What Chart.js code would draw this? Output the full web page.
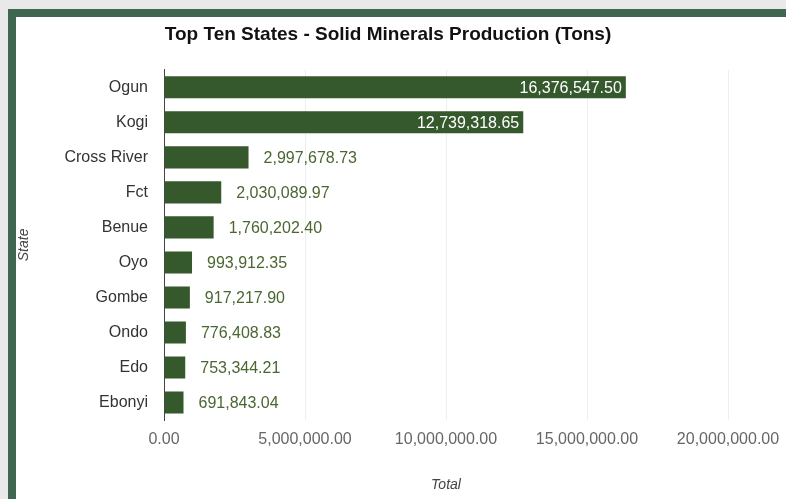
<!DOCTYPE html>
<html>
<head>
<meta charset="utf-8">
<script src="https://cdn.jsdelivr.net/npm/chart.js@4.4.1/dist/chart.umd.min.js"></script>
<style>
	html, body { margin: 0; padding: 0; background: #e9e9e9; overflow: hidden; }
	#frame {
		position: absolute; left: 8px; top: 9px; right: 0; bottom: 0;
		border-top: 8px solid #3e6650; border-left: 8px solid #3e6650;
		background: #fff;
	}
	#chart { position: absolute; left: 0; top: 0; }
</style>
</head>
<body>
<div id="frame"></div>
<canvas id="chart" width="786" height="499"></canvas>
<script>
var states = ["Ogun", "Kogi", "Cross River", "Fct", "Benue", "Oyo", "Gombe", "Ondo", "Edo", "Ebonyi"];
var totals = [16376547.50, 12739318.65, 2997678.73, 2030089.97, 1760202.40, 993912.35, 917217.90, 776408.83, 753344.21, 691843.04];
var xMax = 20000000,
	xStep = 5000000;

var fontFamily = "'Liberation Sans', Arial, sans-serif";
var barColor = "#35592c";

function fmt(v) {
	return Number(v).toLocaleString("en-US", {minimumFractionDigits: 2, maximumFractionDigits: 2});
}

// value labels: inside the bar end when they fit, otherwise just past it
var valueLabels = {
	id: "valueLabels",
	afterDatasetsDraw: function (chart) {
		var ctx = chart.ctx;
		var meta = chart.getDatasetMeta(0);
		ctx.save();
		ctx.font = "16px " + fontFamily;
		ctx.textBaseline = "middle";
		meta.data.forEach(function (bar, i) {
			var text = fmt(totals[i]);
			var w = ctx.measureText(text).width;
			if (w + 10 < bar.x - bar.base) {
				ctx.fillStyle = "#ffffff";
				ctx.textAlign = "right";
				ctx.fillText(text, bar.x - 4, bar.y + 1);
			} else {
				ctx.fillStyle = "#4a6632";
				ctx.textAlign = "left";
				ctx.fillText(text, bar.x + 15, bar.y + 1);
			}
		});
		ctx.restore();
	}
};

new Chart(document.getElementById("chart"), {
	type: "bar",
	data: {
		labels: states,
		datasets: [{
			data: totals,
			backgroundColor: barColor,
			categoryPercentage: 1,
			barPercentage: 0.63
		}]
	},
	plugins: [valueLabels],
	options: {
		indexAxis: "y",
		responsive: false,
		animation: false,
		devicePixelRatio: 1,
		layout: {padding: {left: 48, right: 58, top: 0, bottom: 0}},
		plugins: {
			legend: {display: false},
			tooltip: {enabled: false},
			title: {
				display: true,
				text: "Top Ten States - Solid Minerals Production (Tons)",
				color: "#111",
				font: {family: fontFamily, size: 19, weight: "bold"},
				padding: {top: 23, bottom: 24}
			}
		},
		scales: {
			x: {
				min: 0,
				max: xMax,
				grid: {color: "#eeeeee", drawTicks: false},
				border: {display: false},
				ticks: {
					stepSize: xStep,
					padding: 10,
					color: "#666",
					font: {family: fontFamily, size: 16},
					maxRotation: 0,
					callback: function (v) { return fmt(v); }
				},
				title: {
					display: true,
					text: "Total",
					color: "#444",
					font: {family: fontFamily, size: 14, style: "italic"},
					padding: {top: 0, bottom: 5}
				},
				afterFit: function (scale) {
					scale.height = 79;
					scale.paddingRight = 0;
					scale.paddingLeft = 0;
				}
			},
			y: {
				grid: {display: false, drawTicks: false},
				border: {display: true, color: "#444", width: 1},
				ticks: {
					padding: 16,
					color: "#333",
					font: {family: fontFamily, size: 16}
				},
				title: {
					display: true,
					text: "State",
					color: "#444",
					font: {family: fontFamily, size: 14, style: "italic"},
					padding: {top: -32, bottom: 0}
				},
				afterFit: function (scale) { scale.width = 116; }
			}
		}
	}
});
</script>
</body>
</html>
